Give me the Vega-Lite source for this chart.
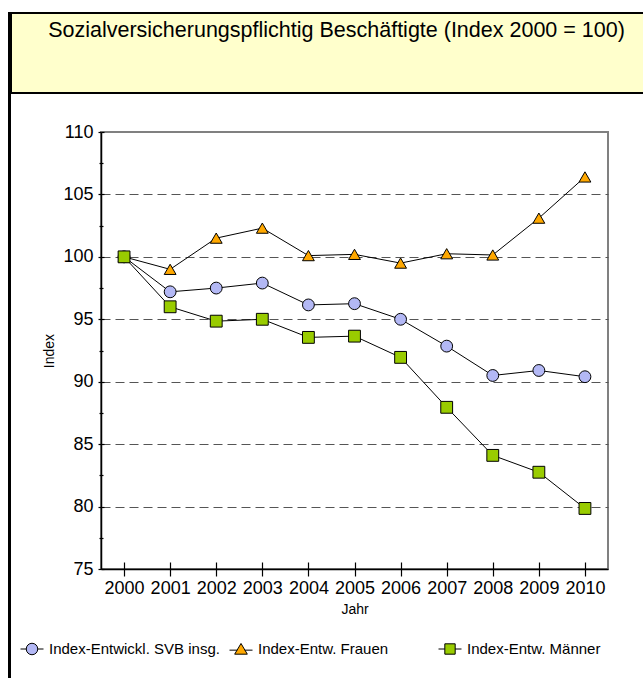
{
  "$schema": "https://vega.github.io/schema/vega-lite/v6.json",
  "background": "white",
  "padding": {"left": 8, "top": 12, "right": 0, "bottom": 0},
  "datasets": {
    "titel": [{"t": "Sozialversicherungspflichtig Beschäftigte (Index 2000 = 100)"}],
    "werte": [
      {"Jahr": "2000", "Serie": "Index-Entwickl. SVB insg.", "Index": 100},
      {"Jahr": "2001", "Serie": "Index-Entwickl. SVB insg.", "Index": 97.2},
      {"Jahr": "2002", "Serie": "Index-Entwickl. SVB insg.", "Index": 97.5},
      {"Jahr": "2003", "Serie": "Index-Entwickl. SVB insg.", "Index": 97.9},
      {"Jahr": "2004", "Serie": "Index-Entwickl. SVB insg.", "Index": 96.15},
      {"Jahr": "2005", "Serie": "Index-Entwickl. SVB insg.", "Index": 96.25},
      {"Jahr": "2006", "Serie": "Index-Entwickl. SVB insg.", "Index": 95.0},
      {"Jahr": "2007", "Serie": "Index-Entwickl. SVB insg.", "Index": 92.85},
      {"Jahr": "2008", "Serie": "Index-Entwickl. SVB insg.", "Index": 90.5},
      {"Jahr": "2009", "Serie": "Index-Entwickl. SVB insg.", "Index": 90.9},
      {"Jahr": "2010", "Serie": "Index-Entwickl. SVB insg.", "Index": 90.4},
      {"Jahr": "2000", "Serie": "Index-Entw. Frauen", "Index": 100},
      {"Jahr": "2001", "Serie": "Index-Entw. Frauen", "Index": 99.0},
      {"Jahr": "2002", "Serie": "Index-Entw. Frauen", "Index": 101.5},
      {"Jahr": "2003", "Serie": "Index-Entw. Frauen", "Index": 102.3},
      {"Jahr": "2004", "Serie": "Index-Entw. Frauen", "Index": 100.1},
      {"Jahr": "2005", "Serie": "Index-Entw. Frauen", "Index": 100.2},
      {"Jahr": "2006", "Serie": "Index-Entw. Frauen", "Index": 99.5},
      {"Jahr": "2007", "Serie": "Index-Entw. Frauen", "Index": 100.25},
      {"Jahr": "2008", "Serie": "Index-Entw. Frauen", "Index": 100.15},
      {"Jahr": "2009", "Serie": "Index-Entw. Frauen", "Index": 103.1},
      {"Jahr": "2010", "Serie": "Index-Entw. Frauen", "Index": 106.4},
      {"Jahr": "2000", "Serie": "Index-Entw. Männer", "Index": 100},
      {"Jahr": "2001", "Serie": "Index-Entw. Männer", "Index": 96.0},
      {"Jahr": "2002", "Serie": "Index-Entw. Männer", "Index": 94.85},
      {"Jahr": "2003", "Serie": "Index-Entw. Männer", "Index": 95.0},
      {"Jahr": "2004", "Serie": "Index-Entw. Männer", "Index": 93.55},
      {"Jahr": "2005", "Serie": "Index-Entw. Männer", "Index": 93.65},
      {"Jahr": "2006", "Serie": "Index-Entw. Männer", "Index": 91.95},
      {"Jahr": "2007", "Serie": "Index-Entw. Männer", "Index": 87.95},
      {"Jahr": "2008", "Serie": "Index-Entw. Männer", "Index": 84.1},
      {"Jahr": "2009", "Serie": "Index-Entw. Männer", "Index": 82.75},
      {"Jahr": "2010", "Serie": "Index-Entw. Männer", "Index": 79.85}
    ]
  },
  "spacing": -3,
  "hconcat": [
    {
      "data": {"name": "titel"},
      "width": 1,
      "height": 664,
      "view": {"fill": "white", "stroke": "black", "strokeWidth": 2},
      "mark": {"type": "text", "text": ""},
      "encoding": {}
    },
    {
      "spacing": 0,
      "vconcat": [
        {
          "data": {"name": "titel"},
          "width": 633,
          "height": 80,
          "view": {"fill": "#FFFFCC", "stroke": "black", "strokeWidth": 2},
          "mark": {"type": "text", "fontSize": 21.5, "color": "black", "dy": -22, "dx": 9},
          "encoding": {"text": {"field": "t", "type": "nominal"}}
        },
        {
          "spacing": 0,
          "hconcat": [
            {
              "data": {"name": "titel"},
              "width": 1,
              "height": 1,
              "view": {"stroke": null, "fill": null},
              "mark": {"type": "text", "text": ""},
              "encoding": {}
            },
            {
              "data": {"name": "werte"},
              "width": 507,
              "height": 437,
              "title": {"text": " ", "fontSize": 10, "offset": 18},
              "view": {"stroke": "#808080", "strokeWidth": 2},
              "encoding": {
                "x": {"field": "Jahr", "type": "ordinal", "scale": {"type": "point", "padding": 0.5},
                  "axis": {"title": "Jahr", "labelAngle": 0, "labelFontSize": 18, "labelPadding": 3, "tickSize": 7, "titleFontSize": 14, "titlePadding": 5, "titleFontWeight": "normal"}},
                "y": {"field": "Index", "type": "quantitative", "scale": {"domain": [75, 110], "nice": false, "zero": false},
                  "axis": {"title": "Index", "values": [75, 77.5, 80, 82.5, 85, 87.5, 90, 92.5, 95, 97.5, 100, 102.5, 105, 107.5, 110],
                    "labelExpr": "datum.value % 5 === 0 ? datum.label : ''",
                    "labelFontSize": 18, "labelPadding": 5,
                    "tickSize": {"condition": {"test": "datum.value % 5 !== 0", "value": 2}, "value": 3},
                    "grid": true, "gridDash": [9, 5], "gridColor": "#555555", "gridWidth": 1.2,
                    "gridOpacity": {"condition": {"test": "datum.value % 5 !== 0 || datum.value === 75 || datum.value === 110", "value": 0}, "value": 1},
                    "titleFontSize": 14, "titlePadding": 6, "titleFontWeight": "normal"}}
              },
              "resolve": {"scale": {"shape": "independent", "color": "independent"}, "axis": {"x": "independent", "y": "independent"}},
              "layer": [
                {
                  "mark": {"type": "line", "color": "black", "strokeWidth": 1},
                  "encoding": {"detail": {"field": "Serie", "type": "nominal"}}
                },
                {
                  "mark": {"type": "point", "filled": true, "size": 140, "stroke": "black", "strokeWidth": 1, "opacity": 1},
                  "encoding": {
                    "x": {"field": "Jahr", "type": "ordinal", "scale": {"type": "point", "padding": 0.5}, "axis": null},
                    "y": {"field": "Index", "type": "quantitative", "axis": null},
                    "shape": {"field": "Serie", "type": "nominal", "legend": null,
                      "scale": {"domain": ["Index-Entwickl. SVB insg.", "Index-Entw. Frauen", "Index-Entw. Männer"], "range": ["circle", "triangle-up", "square"]}},
                    "color": {"field": "Serie", "type": "nominal", "legend": null,
                      "scale": {"domain": ["Index-Entwickl. SVB insg.", "Index-Entw. Frauen", "Index-Entw. Männer"], "range": ["#B3B8F5", "#FFA800", "#99CC00"]}}
                  }
                },
                {
                  "mark": {"type": "point", "filled": true, "opacity": 0},
                  "encoding": {
                    "x": {"field": "Jahr", "type": "ordinal", "scale": {"type": "point", "padding": 0.5},
                      "axis": {"orient": "bottom", "tickSize": -7, "labels": false, "domain": false, "grid": false, "title": null}},
                    "y": {"field": "Index", "type": "quantitative",
                      "axis": {"orient": "left", "values": [75, 77.5, 80, 82.5, 85, 87.5, 90, 92.5, 95, 97.5, 100, 102.5, 105, 107.5, 110],
                        "tickSize": {"condition": {"test": "datum.value % 5 !== 0", "value": -2}, "value": -3},
                        "labels": false, "domain": false, "grid": false, "title": null}},
                    "shape": {"field": "Serie", "type": "nominal",
                      "scale": {"domain": ["Index-Entwickl. SVB insg.", "Index-Entw. Frauen", "Index-Entw. Männer"],
                        "range": [
                          "M-0.5,0 A0.5,0.5 0 1,1 0.5,0 A0.5,0.5 0 1,1 -0.5,0 Z M-1,0 H-0.5 M0.5,0 H1",
                          "M0,-0.48 L0.55,0.45 L-0.55,0.45 Z M-1,0.1 H-0.33 M0.33,0.1 H1",
                          "M-0.45,-0.45 H0.45 V0.45 H-0.45 Z M-1,0 H-0.45 M0.45,0 H1"
                        ]},
                      "legend": {"orient": "none", "legendX": -88, "legendY": 498, "direction": "horizontal", "title": null, "padding": 7,
                        "labelFontSize": 15, "labelLimit": 400, "symbolSize": 529, "symbolStrokeColor": "black", "symbolStrokeWidth": 1,
                        "symbolOpacity": 1, "columnPadding": 7, "gridAlign": "all", "labelOffset": 5,
                        "encode": {"symbols": {"update": {"stroke": {"value": "black"}, "strokeWidth": {"value": 1}, "opacity": {"value": 1}}}}}},
                    "color": {"field": "Serie", "type": "nominal",
                      "scale": {"domain": ["Index-Entwickl. SVB insg.", "Index-Entw. Frauen", "Index-Entw. Männer"], "range": ["#B3B8F5", "#FFA800", "#99CC00"]},
                      "legend": {"orient": "none", "legendX": -88, "legendY": 498, "direction": "horizontal", "title": null, "padding": 7,
                        "labelFontSize": 15, "labelLimit": 400, "symbolSize": 529, "symbolStrokeColor": "black", "symbolStrokeWidth": 1,
                        "symbolOpacity": 1, "columnPadding": 7, "gridAlign": "all", "labelOffset": 5,
                        "encode": {"symbols": {"update": {"stroke": {"value": "black"}, "strokeWidth": {"value": 1}, "opacity": {"value": 1}}}}}}
                  }
                }
              ]
            }
          ]
        }
      ]
    }
  ],
  "config": {
    "font": "'Liberation Sans', Arial, sans-serif",
    "axis": {"labelColor": "black", "titleColor": "black", "domainColor": "black", "tickColor": "black", "domainWidth": 1.5, "tickWidth": 1.2},
    "legend": {"labelColor": "black"},
    "text": {"color": "black"}
  }
}
